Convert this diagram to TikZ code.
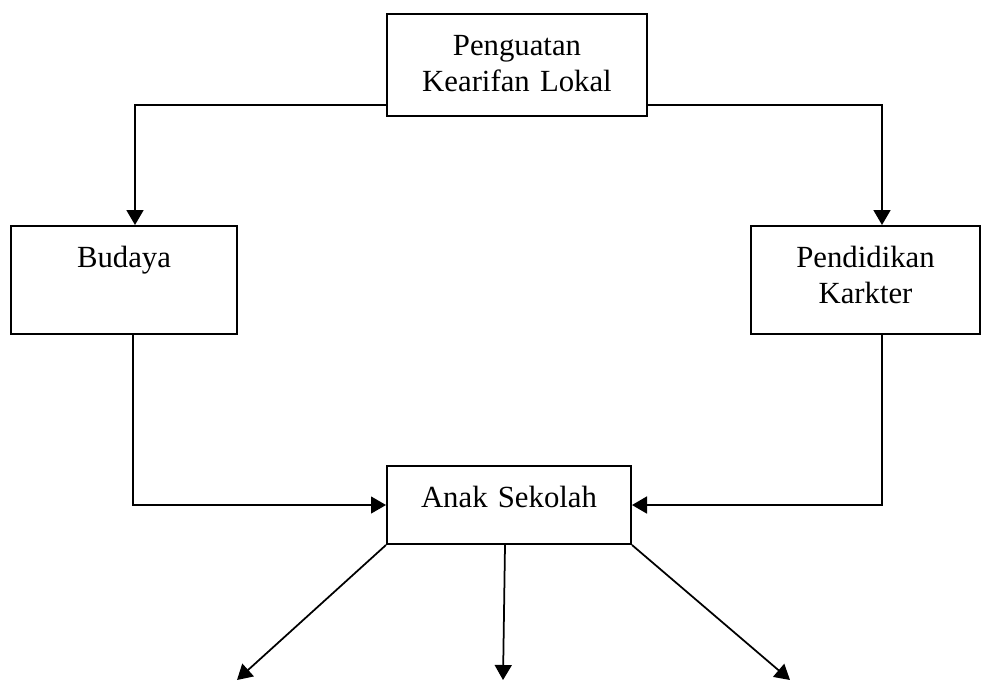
\documentclass[tikz,border=0pt]{standalone}
\usepackage{fontspec}
\setmainfont{Liberation Serif}
\usepackage{tikz}
\usetikzlibrary{arrows.meta}

\begin{document}
\begin{tikzpicture}[x=0.4pt,y=-0.4pt]

\tikzset{kotak/.style={draw,
		line width=0.8pt,
		anchor=north,
		align=center,
		text width=#1,
		inner xsep=0pt,
		inner ysep=4pt,
		text height=12.4pt,
		font=\fontsize{12.3pt}{14.6pt}\selectfont
	},
	kotak/.default=90pt,
	panah/.style={line width=0.7pt, -{Triangle[width=6.8pt,length=6pt]}}
}

\useasboundingbox (0,0) rectangle (992,682);

\node[kotak=104pt, text depth=20.4pt] (kearifan) at (517,13) {Penguatan\\Kearifan Lokal};
\node[kotak=90.4pt, text depth=22.8pt] (budaya) at (124,225) {Budaya};
\node[kotak=91.6pt, text depth=22.8pt] (pendidikan) at (865.5,225) {Pendidikan\\Karkter};
\node[kotak=97.6pt, text depth=10.8pt] (anak) at (509,465) {Anak Sekolah};

%ujung panah bawah
\coordinate (ujung1) at (237,680);
\coordinate (ujung2) at (503,680);
\coordinate (ujung3) at (790,680);

\draw[panah] ([yshift=4.8pt]kearifan.south west) -| ([xshift=4.4pt]budaya.north);
\draw[panah] ([yshift=4.8pt]kearifan.south east) -| ([xshift=6.6pt]pendidikan.north);
\draw[panah, line width=0.5pt] ([xshift=3.6pt]budaya.south) |- (anak.west);
\draw[panah] ([xshift=6.6pt]pendidikan.south) |- (anak.east);
\draw[panah] (anak.south west) -- (ujung1);
\draw[panah] ([xshift=-1.6pt]anak.south) -- (ujung2);
\draw[panah] (anak.south east) -- (ujung3);
\end{tikzpicture}
\end{document}
